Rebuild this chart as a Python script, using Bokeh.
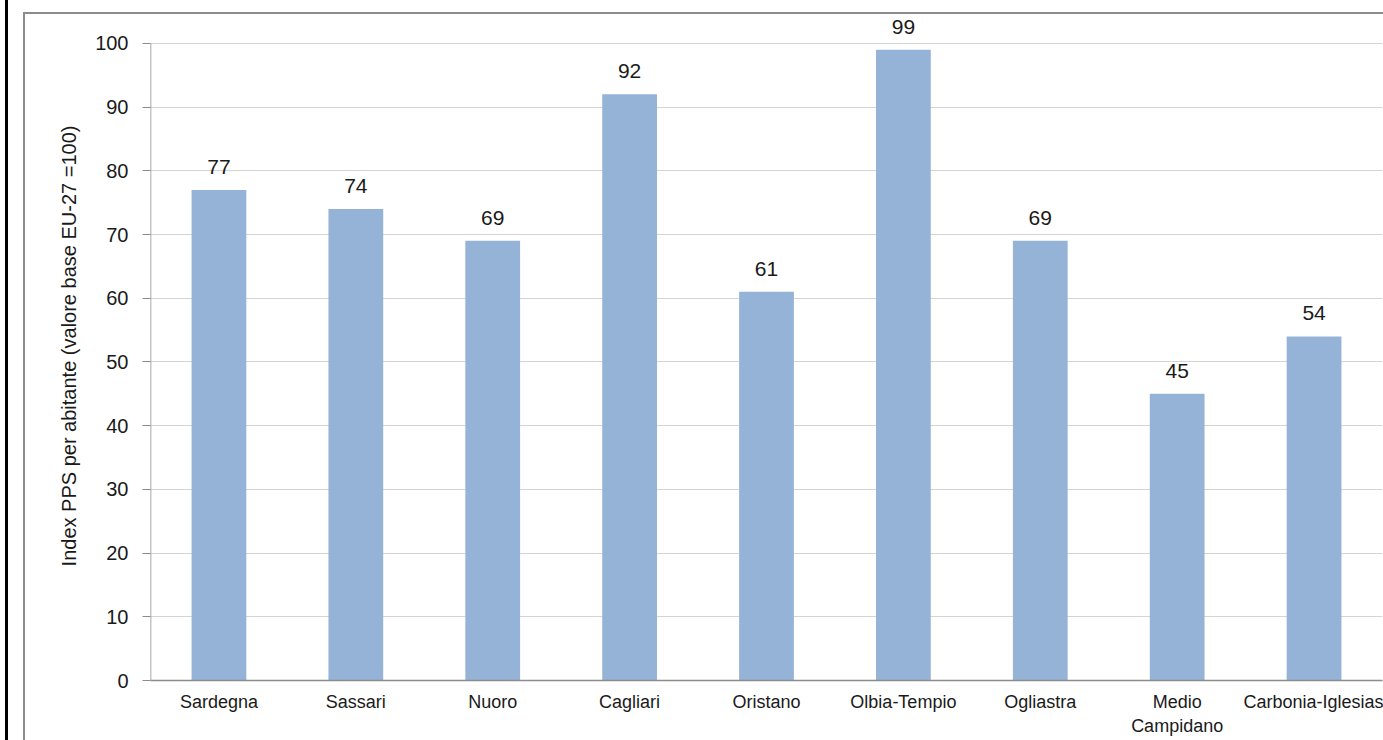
from bokeh.plotting import figure
from bokeh.models import ColumnDataSource, LabelSet, FixedTicker, InlineStyleSheet
from bokeh.core.properties import value
from bokeh.embed import file_html
from bokeh.resources import INLINE

# Index of GDP per inhabitant in PPS (EU-27 = 100), Sardinian provinces
provinces = ["Sardegna", "Sassari", "Nuoro", "Cagliari", "Oristano",
             "Olbia-Tempio", "Ogliastra", "Medio\nCampidano", "Carbonia-Iglesias"]
index_values = [77, 74, 69, 92, 61, 99, 69, 45, 54]
y_ticks = [0, 10, 20, 30, 40, 50, 60, 70, 80, 90, 100]

FONT = "Liberation Sans"
TEXT = "#1a1a1a"
AXIS = "#8c8c8c"

src = ColumnDataSource(data=dict(
    prov=provinces,
    val=index_values,
    lbl=[str(v) for v in index_values],
))

# headroom above 100 so the value labels of tall bars stay visible
p = figure(
    x_range=provinces, y_range=(0, 105),
    width=1383, height=740,
    output_backend="svg", toolbar_location=None,
    min_border_left=150, min_border_right=1,
    min_border_top=11, min_border_bottom=60,
    background_fill_color="white", border_fill_color="white",
)
p.outline_line_color = None

p.vbar(x="prov", top="val", width=0.4, source=src,
       fill_color="#95B3D7", line_color=None)

p.add_layout(LabelSet(x="prov", y="val", text="lbl", source=src,
                      text_align="center", text_baseline="bottom",
                      y_offset=16, text_font=value(FONT), text_font_size="21px",
                      text_color=TEXT))

# y axis: line drawn only from 0 to 100
p.yaxis.ticker = FixedTicker(ticks=y_ticks)
p.yaxis.axis_label = "Index PPS per abitante (valore base EU-27 =100)"
p.yaxis.axis_label_text_font = FONT
p.yaxis.axis_label_text_font_style = "normal"
p.yaxis.axis_label_text_font_size = "20px"
p.yaxis.axis_label_text_color = TEXT
p.yaxis.axis_label_standoff = 12
p.yaxis.major_label_text_font = FONT
p.yaxis.major_label_text_font_size = "20px"
p.yaxis.major_label_text_color = TEXT
p.yaxis.major_label_standoff = 14
p.yaxis.major_tick_out = 8
p.yaxis.major_tick_in = 0
p.yaxis.minor_tick_line_color = None
p.yaxis.axis_line_color = None
p.yaxis.major_tick_line_color = AXIS

axis_src = ColumnDataSource(data=dict(x0=[(provinces[0], -0.5)], y0=[0],
                                      x1=[(provinces[0], -0.5)], y1=[100]))
p.segment(x0="x0", y0="y0", x1="x1", y1="y1", source=axis_src,
          line_color=AXIS, line_width=1.5)

# x axis
p.xaxis.major_label_text_font = FONT
p.xaxis.major_label_text_font_size = "18px"
p.xaxis.major_label_text_color = TEXT
p.xaxis.major_label_standoff = 5
p.xaxis.major_tick_line_color = None
p.xaxis.minor_tick_line_color = None
p.xaxis.axis_line_color = AXIS
p.xaxis.axis_line_width = 1.5

p.xgrid.grid_line_color = None
p.ygrid.grid_line_color = "#d4d4d4"
p.ygrid.grid_line_width = 1

# chart-area border and the page rule at the left edge
p.stylesheets = [InlineStyleSheet(css="""
:host { position: relative; }
:host::before {
  content: ""; position: absolute; left: 5px; top: 0; bottom: 0; width: 3px;
  background: #000; z-index: 10; pointer-events: none;
}
:host::after {
  content: ""; position: absolute; left: 23px; top: 12px; right: 0; bottom: 0;
  border-top: 2px solid #8c8c8c; border-left: 2px solid #8c8c8c;
  z-index: 10; pointer-events: none;
}
""")]

open("out.html", "w").write(file_html(p, INLINE))
